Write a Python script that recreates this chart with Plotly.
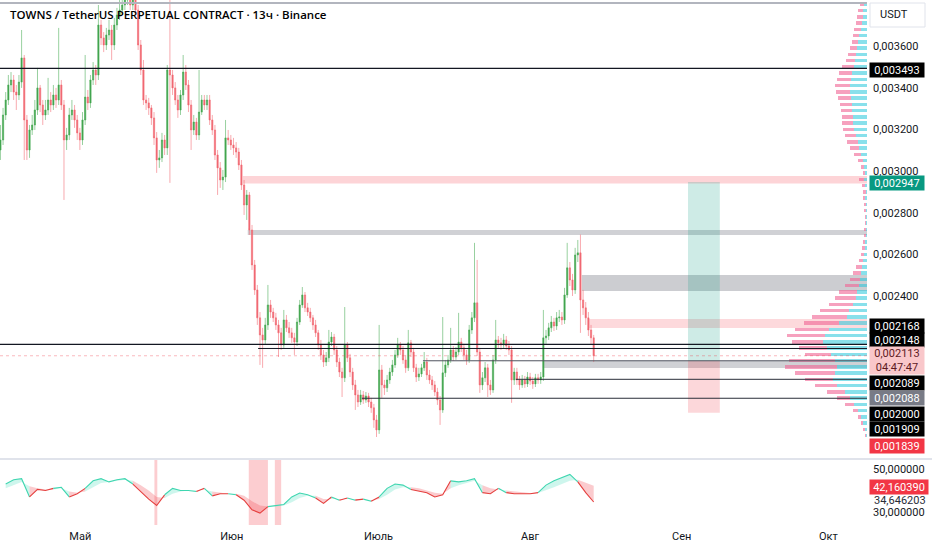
import numpy as np
import pandas as pd
import plotly.graph_objects as go

W, H = 932, 550
PLOT_R = 867  # right edge of the price pane, px

# ── candles: TOWNS/USDT 13h, prices in micro-USDT ──────────────────────────
first_open = 3101
close_u = [
    3149, 3269, 3341, 3413, 3437, 3379, 3365, 3427, 3543, 3245,
    3101, 3197, 3221, 3293, 3399, 3317, 3269, 3293, 3341, 3317,
    3365, 3341, 3413, 3317, 3149, 3173, 3269, 3293, 3245, 3183,
    3149, 3245, 3355, 3327, 3437, 3485, 3461, 3701, 3639, 3605,
    3653, 3677, 3605, 3701, 3749, 3773, 3797, 3821, 3845, 3797,
    3821, 3773, 3605, 3485, 3341, 3327, 3303, 3255, 3159, 3053,
    3063, 3149, 3111, 3485, 3461, 3399, 3341, 3293, 3365, 3475,
    3413, 3317, 3197, 3235, 3173, 3283, 3341, 3317, 3341, 3245,
    3197, 3077, 3015, 2957, 2971, 3159, 3149, 3125, 3111, 3091,
    3029, 2933, 2837, 2885, 2717, 2549, 2429, 2295, 2213, 2189,
    2261, 2357, 2323, 2295, 2261, 2223, 2165, 2285, 2247, 2223,
    2199, 2179, 2275, 2357, 2405, 2343, 2323, 2295, 2261, 2223,
    2165, 2117, 2083, 2103, 2179, 2203, 2141, 2083, 2035, 2007,
    2165, 2103, 2035, 1973, 1925, 1891, 1925, 1901, 1920, 1891,
    1863, 1805, 1757, 2045, 1973, 1959, 1997, 2035, 2069, 2117,
    2165, 2141, 2093, 2055, 2175, 2131, 2055, 2011, 2026, 2055,
    2083, 2021, 1997, 1973, 1939, 1901, 1853, 2031, 2069, 2093,
    2141, 2107, 2131, 2179, 2151, 2117, 2093, 2237, 2295, 2367,
    2131, 1973, 2007, 2055, 1973, 1949, 2093, 2189, 2175, 2165,
    2189, 2160, 2141, 1997, 2035, 1997, 1973, 1997, 1978, 2011,
    1992, 1978, 2007, 1997, 2011, 2199, 2208, 2247, 2275, 2256,
    2295, 2299, 2285, 2405, 2535, 2477, 2429, 2597, 2607, 2381,
    2343, 2295, 2237, 2199, 2113,
]
high_u = [
    3221, 3303, 3379, 3461, 3475, 3461, 3413, 3461, 3677, 3557,
    3269, 3221, 3269, 3341, 3495, 3413, 3341, 3341, 3447, 3379,
    3413, 3399, 3687, 3437, 3341, 3207, 3303, 3341, 3317, 3269,
    3207, 3283, 3557, 3389, 3461, 3523, 3509, 3797, 3725, 3667,
    3687, 3725, 3701, 3735, 3783, 3869, 3869, 3893, 3917, 3879,
    3869, 3845, 3797, 3629, 3533, 3365, 3351, 3317, 3283, 3187,
    3101, 3183, 3173, 3509, 3917, 3485, 3427, 3365, 3389, 3557,
    3509, 3437, 3341, 3269, 3255, 3485, 3365, 3365, 3365, 3365,
    3269, 3221, 3101, 3043, 3005, 3245, 3197, 3173, 3159, 3139,
    3111, 3053, 2957, 2909, 2899, 2741, 2573, 2453, 2323, 2247,
    2295, 2453, 2381, 2343, 2319, 2285, 2247, 2333, 2309, 2275,
    2247, 2223, 2295, 2381, 2443, 2419, 2367, 2343, 2309, 2285,
    2237, 2189, 2141, 2131, 2237, 2227, 2218, 2160, 2103, 2055,
    2347, 2179, 2122, 2055, 1997, 1949, 1949, 1944, 1939, 1935,
    1911, 1882, 1829, 2261, 2069, 1997, 2021, 2055, 2093, 2141,
    2199, 2179, 2160, 2117, 2237, 2189, 2151, 2074, 2055, 2074,
    2131, 2103, 2045, 2016, 1992, 1959, 1920, 2299, 2093, 2117,
    2247, 2160, 2155, 2319, 2199, 2170, 2141, 2261, 2323, 2655,
    2573, 2151, 2035, 2083, 2074, 1997, 2117, 2285, 2208, 2199,
    2218, 2208, 2184, 2160, 2055, 2055, 2016, 2021, 2016, 2035,
    2031, 2011, 2026, 2026, 2035, 2333, 2237, 2271, 2304, 2295,
    2323, 2333, 2323, 2439, 2655, 2563, 2506, 2631, 2669, 2695,
    2429, 2371, 2323, 2261, 2213,
]
low_u = [
    3053, 3125, 3245, 3317, 3379, 3341, 3293, 3341, 3399, 3053,
    3053, 3063, 3173, 3197, 3269, 3283, 3221, 3245, 3269, 3283,
    3293, 3303, 3317, 3293, 2861, 3101, 3149, 3245, 3207, 3149,
    3101, 3125, 3221, 3293, 3303, 3413, 3413, 3437, 3605, 3571,
    3581, 3629, 3533, 3581, 3677, 3725, 3749, 3773, 3797, 3773,
    3773, 3749, 3581, 3461, 3317, 3293, 3269, 3221, 3125, 2991,
    3015, 3043, 3077, 3077, 2943, 3365, 3317, 3255, 3269, 3341,
    3389, 3283, 3101, 3173, 3149, 3149, 3269, 3293, 3293, 3221,
    3173, 3053, 2885, 2919, 2909, 2947, 3125, 3101, 3077, 3063,
    3005, 2909, 2789, 2765, 2693, 2525, 2405, 2261, 2069, 2055,
    2165, 2237, 2295, 2275, 2237, 2107, 2141, 2151, 2227, 2199,
    2175, 2117, 2160, 2261, 2343, 2323, 2304, 2275, 2237, 2203,
    2141, 2093, 2059, 2064, 2083, 2160, 2117, 2059, 2011, 1915,
    1987, 2083, 2011, 1949, 1853, 1867, 1877, 1882, 1887, 1867,
    1839, 1767, 1723, 1738, 1911, 1925, 1939, 1978, 2016, 2055,
    2103, 2117, 2074, 2031, 2040, 2107, 2035, 1987, 1992, 2011,
    2040, 1997, 1978, 1949, 1920, 1877, 1781, 1839, 2011, 2055,
    2079, 2088, 2093, 2117, 2131, 2093, 2069, 2079, 2218, 2275,
    2112, 1935, 1949, 1987, 1915, 1925, 1935, 2074, 2151, 2141,
    2146, 2141, 2117, 1887, 1973, 1973, 1949, 1959, 1959, 1963,
    1973, 1954, 1963, 1978, 1978, 1992, 2170, 2189, 2227, 2232,
    2237, 2275, 2261, 2266, 2391, 2448, 2400, 2410, 2563, 2223,
    2309, 2261, 2208, 2165, 2083,
]

# ── RSI pane (every third bar) ─────────────────────────────────────────────
rsi_vals = [
    43, 45, 45.5, 37, 40.5, 40, 41, 41.5, 37, 38.5,
    41, 44.5, 45.5, 44, 45, 45.5, 43, 39.5, 36, 33,
    38, 41, 40, 40, 39.5, 41, 37.5, 38.5, 38.5, 38,
    35.5, 31, 29.5, 32.5, 33, 33.5, 37, 38.8, 38, 36.5,
    34, 37, 35.5, 36.5, 35.5, 36, 35, 37, 41, 43,
    42.5, 40.5, 39.8, 39, 37, 38, 44.5, 44, 44.5, 45.5,
    39, 38.5, 41, 39, 38.5, 38.5, 38.5, 39, 42.5, 44.5,
    46, 47.5, 44, 39, 34.646203,
]
rsi_ma = [
    41, 42.5, 44, 42, 41, 40.5, 40.5, 41, 39.5, 39,
    39.5, 41.5, 43.5, 44, 44.5, 45, 44.5, 42.5, 40, 37,
    36.5, 38.5, 39.5, 40, 40, 40.5, 39.5, 39, 38.5, 38.5,
    37.5, 35, 33, 32.5, 32.5, 33, 34.5, 36.5, 37.5, 37.5,
    36, 36, 36, 36, 36, 36, 35.5, 36, 38, 40.5,
    41.5, 41.5, 41, 40, 39, 38.5, 41, 42.5, 43.5, 44.5,
    42.5, 41, 40.5, 40, 39.5, 39, 38.8, 38.8, 40, 41.5,
    43, 44.5, 45, 43.5, 42.160390,
]
oversold_start = ["2025-05-16 04:00", "2025-06-04 11:00", "2025-06-09 19:00"]
oversold_end = ["2025-05-16 18:00", "2025-06-08 09:00", "2025-06-11 02:00"]

# ── visible-range volume profile (30 µUSDT bins) ──────────────────────────
vp_price_u = list(range(3800, 1700, -30))
vp_up = [
    3, 4, 4, 5, 6, 8, 9, 10, 11, 12, 13, 15, 16, 17, 17, 16, 15, 15, 14, 14,
    13, 11, 9, 8, 6, 4, 3, 2, 3, 2, 1, 2, 1, 1, 1, 1, 1, 1, 2, 2,
    3, 4, 5, 6, 7, 8, 10, 11, 14, 18, 20, 28, 38, 42, 44, 40, 36, 32, 30, 32,
    34, 30, 22, 17, 13, 9, 6, 4, 2, 1,
]
vp_down = [
    4, 5, 6, 6, 7, 6, 6, 7, 8, 9, 12, 13, 14, 15, 14, 13, 12, 11, 11, 11,
    11, 11, 11, 9, 7, 5, 3, 2, 5, 3, 3, 2, 2, 2, 1, 1, 2, 2, 2, 3,
    3, 4, 6, 8, 10, 14, 18, 21, 24, 29, 35, 35, 34, 38, 31, 28, 26, 46, 52, 40,
    28, 22, 18, 13, 9, 5, 3, 2, 2, 1,
]

# ── drawings ──────────────────────────────────────────────────────────────
level_u = [3807, 3493, 2168, 2148, 2089, 2000, 1909]
level_start = ["2025-04-14 14:00", "2025-04-14 14:00", "2025-04-14 14:00",
               "2025-06-06 09:00", "2025-07-10 02:00", "2025-07-29 02:00",
               "2025-06-27 14:00"]
level_color = ["#b2b5be", "#131722", "#131722", "#131722", "#50535e", "#2a2e39", "#2a2e39"]
level_width = [2, 1.2, 1.3, 1, 1, 1, 1]

zone_lo_u = [2940, 2693, 2424, 2246, 2054]
zone_hi_u = [2976, 2717, 2501, 2290, 2088]
zone_start = ["2025-06-03 06:00", "2025-06-04 06:00", "2025-08-11 14:00",
              "2025-08-13 01:00", "2025-08-03 14:00"]
zone_color = ["rgba(247,82,95,0.25)", "rgba(120,123,134,0.35)", "rgba(120,123,134,0.38)",
              "rgba(247,82,95,0.22)", "rgba(120,123,134,0.35)"]

pos_entry_u, pos_target_u, pos_stop_u = 2088, 2947, 1839
pos_start, pos_end = "2025-09-02 07:00", "2025-09-08 19:00"

last_price_u = 2113
countdown = "04:47:47"
x_start, x_end = "2025-04-14 14:00", "2025-10-08 21:30"
month_ticks = ["2025-05-01", "2025-06-01", "2025-07-01", "2025-08-01", "2025-09-01", "2025-10-01"]
month_text = ["Май", "Июн", "Июль", "Авг", "Сен", "Окт"]
price_ticks_u = [2400, 2600, 2800, 3000, 3200, 3400, 3600]

# ── build ─────────────────────────────────────────────────────────────────
U = 1e6
dates = pd.date_range("2025-04-14 16:00", periods=len(close_u), freq="13h")
open_u = [first_open] + close_u[:-1]
rsi_x = dates[2::3]


def fmt(v):
    return f"{v:.6f}".replace(".", ",")


def py(px):
    return 1 - px / H


FONT = "Roboto"
TXT = "#131722"

fig = go.Figure()

# volume profile behind candles
fig.add_trace(go.Bar(
    y=np.array(vp_price_u) / U, x=vp_up, orientation="h", xaxis="x3", yaxis="y",
    marker=dict(color="rgba(38,198,218,0.55)", line_width=0), width=0.000017,
    showlegend=False, hoverinfo="skip",
))
fig.add_trace(go.Bar(
    y=np.array(vp_price_u) / U, x=vp_down, orientation="h", xaxis="x3", yaxis="y",
    marker=dict(color="rgba(240,98,146,0.6)", line_width=0), width=0.000017,
    showlegend=False, hoverinfo="skip",
))

fig.add_trace(go.Candlestick(
    x=dates,
    open=np.array(open_u) / U, high=np.array(high_u) / U,
    low=np.array(low_u) / U, close=np.array(close_u) / U,
    increasing=dict(line=dict(color="rgba(67,170,80,0.55)", width=1), fillcolor="#43a34f"),
    decreasing=dict(line=dict(color="rgba(242,100,110,0.55)", width=1), fillcolor="#f06b75"),
    whiskerwidth=0, showlegend=False, xaxis="x", yaxis="y",
))

# RSI with coloured fill to its moving average
rsi = np.array(rsi_vals)
ma = np.array(rsi_ma)
above = rsi >= ma
runs, s = [], 0
for i in range(1, len(rsi)):
    if above[i] != above[s]:
        runs.append((s, i))
        s = i
runs.append((s, len(rsi) - 1))
for a, b in runs:
    up = above[a]
    fig.add_trace(go.Scatter(
        x=rsi_x[a:b + 1], y=ma[a:b + 1], mode="lines", line=dict(width=0),
        xaxis="x2", yaxis="y2", showlegend=False, hoverinfo="skip",
    ))
    fig.add_trace(go.Scatter(
        x=rsi_x[a:b + 1], y=rsi[a:b + 1], mode="lines",
        line=dict(color="#3fd6b0" if up else "#e5403f", width=1.1),
        fill="tonexty",
        fillcolor="rgba(80,222,190,0.28)" if up else "rgba(242,70,80,0.28)",
        xaxis="x2", yaxis="y2", showlegend=False, hoverinfo="skip",
    ))

shapes = []
for lo, hi, x0, col in zip(zone_lo_u, zone_hi_u, zone_start, zone_color):
    shapes.append(dict(type="rect", xref="x", yref="y", x0=x0, x1=x_end,
                       y0=lo / U, y1=hi / U, fillcolor=col, line_width=0, layer="below"))
shapes.append(dict(type="rect", xref="x", yref="y", x0=pos_start, x1=pos_end,
                   y0=pos_entry_u / U, y1=pos_target_u / U,
                   fillcolor="rgba(8,153,129,0.2)", line_width=0, layer="below"))
shapes.append(dict(type="rect", xref="x", yref="y", x0=pos_start, x1=pos_end,
                   y0=pos_stop_u / U, y1=pos_entry_u / U,
                   fillcolor="rgba(242,54,69,0.2)", line_width=0, layer="below"))
for v, x0, col, w in zip(level_u, level_start, level_color, level_width):
    shapes.append(dict(type="line", xref="x", yref="y", x0=x0, x1=x_end,
                       y0=v / U, y1=v / U, line=dict(color=col, width=w)))
shapes.append(dict(type="line", xref="x", yref="y", x0=x_start, x1=x_end,
                   y0=last_price_u / U, y1=last_price_u / U,
                   line=dict(color="rgba(242,54,69,0.35)", width=1, dash="dot")))
for x0, x1 in zip(oversold_start, oversold_end):
    shapes.append(dict(type="rect", xref="x2", yref="y2 domain", x0=x0, x1=x1, y0=0, y1=1,
                       fillcolor="rgba(242,54,69,0.25)", line_width=0, layer="below"))
# pane separator and the USDT box
shapes.append(dict(type="line", xref="paper", yref="paper", x0=0, x1=1, y0=py(459), y1=py(459),
                   line=dict(color="#e0e3eb", width=2)))
shapes.append(dict(type="rect", xref="paper", yref="paper", x0=870 / W, x1=925 / W,
                   y0=py(27), y1=py(3), line=dict(color="#e0e3eb", width=1), fillcolor="white"))

annotations = [
    dict(text="TOWNS / TetherUS PERPETUAL CONTRACT · 13ч · Binance", x=8 / W, y=py(15),
         xref="paper", yref="paper", xanchor="left", yanchor="middle", showarrow=False,
         font=dict(family="Open Sans", size=11.5, color="#000000", weight=600)),
    dict(text="USDT", x=878 / W, y=py(15), xref="paper", yref="paper", xanchor="left",
         yanchor="middle", showarrow=False, font=dict(family=FONT, size=11, color=TXT)),
]

# right-scale price labels (stacked where they would overlap)
tags = [
    (level_u[1], 70, "#000000", "white"),
    (pos_target_u, 183, "#089981", "white"),
    (level_u[2], 326, "#000000", "white"),
    (level_u[3], 340, "#000000", "white"),
    (level_u[4], 383, "#000000", "white"),
    (pos_entry_u, 398, "#787b86", "white"),
    (level_u[5], 414, "#000000", "white"),
    (level_u[6], 429, "#000000", "white"),
    (pos_stop_u, 446, "#f23645", "white"),
]
for v, ypx, bg, fg in tags:
    annotations.append(dict(
        text=fmt(v / U), x=869 / W, y=py(ypx), xref="paper", yref="paper",
        xanchor="left", yanchor="middle", showarrow=False, bgcolor=bg,
        width=54, height=14, borderpad=0, font=dict(family=FONT, size=11, color=fg),
    ))
annotations.append(dict(
    text=f"{fmt(last_price_u / U)}<br>{countdown}", x=869 / W, y=py(360),
    xref="paper", yref="paper", xanchor="left", yanchor="middle", showarrow=False,
    bgcolor="#f9c7ca", width=54, height=27, borderpad=0,
    font=dict(family=FONT, size=11, color="#5d1a1f"),
))
annotations.append(dict(
    text=fmt(rsi_ma[-1]), x=869 / W, y=py(487), xref="paper", yref="paper",
    xanchor="left", yanchor="middle", showarrow=False, bgcolor="#f23645",
    width=58, height=14, borderpad=0, font=dict(family=FONT, size=11, color="white"),
))
annotations.append(dict(
    text=fmt(rsi_vals[-1]), x=872 / W, y=py(500), xref="paper", yref="paper",
    xanchor="left", yanchor="middle", showarrow=False,
    font=dict(family=FONT, size=11, color="#2a2e39"),
))

dom_x = [0, PLOT_R / W]
fig.update_layout(
    width=W, height=H,
    margin=dict(l=0, r=0, t=0, b=0),
    paper_bgcolor="white", plot_bgcolor="white",
    separators=", ",
    barmode="stack",
    showlegend=False,
    shapes=shapes,
    annotations=annotations,
    font=dict(family=FONT, size=11, color=TXT),
    xaxis=dict(domain=dom_x, anchor="y", type="date", range=[x_start, x_end],
               showticklabels=False, showgrid=False, zeroline=False, showline=False,
               rangeslider=dict(visible=False)),
    yaxis=dict(domain=[py(457), 1], anchor="x", side="right",
               range=[1627 / U, 3821 / U], tickvals=np.array(price_ticks_u) / U,
               tickformat=".6f", showgrid=False, zeroline=False, showline=False,
               ticks="", ticklabelstandoff=5, tickfont=dict(size=11, color=TXT)),
    xaxis2=dict(domain=dom_x, anchor="y2", type="date", matches="x",
                tickvals=month_ticks, ticktext=month_text, showgrid=False,
                zeroline=False, showline=False, ticks="", ticklabelstandoff=3,
                tickfont=dict(size=11, color=TXT)),
    yaxis2=dict(domain=[py(525), py(460)], anchor="x2", side="right",
                range=[23.95, 54.19], tickvals=[30, 50], tickformat=".6f",
                showgrid=False, zeroline=False, showline=False, ticks="",
                ticklabelstandoff=5, tickfont=dict(size=11, color=TXT)),
    xaxis3=dict(overlaying="x", anchor="y", range=[PLOT_R, 0], visible=False),
)

fig.write_html("out.html", config={"displayModeBar": False},
               post_script="document.body.style.margin='0';")
